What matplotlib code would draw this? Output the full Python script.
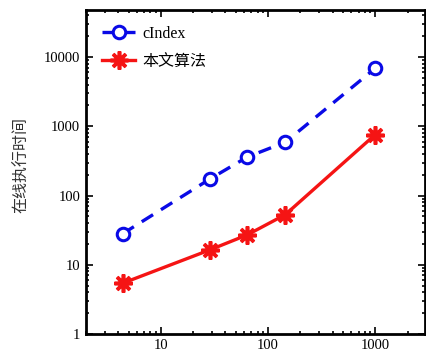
import matplotlib
matplotlib.use("Agg")
import matplotlib.pyplot as plt
from matplotlib.ticker import FixedLocator, FixedFormatter

plt.rcParams['font.family'] = ['Liberation Serif', 'Noto Sans CJK SC']

# data size (x) vs online run time (y)
x_cindex = [4.4, 29, 64, 145, 1000]
y_cindex = [28, 175, 360, 590, 6900]
x_ours = [4.4, 29, 64, 145, 1000]
y_ours = [5.4, 16.5, 27, 53, 760]

xticks = [10, 100, 1000]
xtick_labels = ["10", "100", "1000"]
yticks = [1, 10, 100, 1000, 10000]
ytick_labels = ["1", "10", "100", "1000", "10000"]

fig = plt.figure(figsize=(4.27, 3.56), dpi=100)
ax = fig.add_axes([0.201, 0.062, 0.794, 0.910])

ax.plot(x_cindex, y_cindex, color='#0a0ae6', lw=2.4, ls=(0, (4, 2.8)),
        marker='o', ms=9, mfc='white', mec='#0a0ae6', mew=2.2, label='cIndex')
ax.plot(x_ours, y_ours, color='#f51414', lw=2.4, ls='-',
        marker=(8, 2, 0), ms=13, mec='#f51414', mew=2.6, label='本文算法')

ax.set_xscale('log')
ax.set_yscale('log')
ax.set_xlim(2, 2900)
ax.set_ylim(1, 48000)

ax.xaxis.set_major_locator(FixedLocator(xticks))
ax.xaxis.set_major_formatter(FixedFormatter(xtick_labels))
ax.yaxis.set_major_locator(FixedLocator(yticks))
ax.yaxis.set_major_formatter(FixedFormatter(ytick_labels))

ax.tick_params(which='both', direction='in', top=True, right=True,
               labelsize=10.5, width=1.2)
ax.tick_params(which='major', length=5, pad=4)
ax.tick_params(which='minor', length=2.5)
for s in ax.spines.values():
    s.set_linewidth(2)

ax.set_ylabel('在线执行时间', fontsize=11.5, color='#333333',
              family=['Noto Sans CJK SC'])
ax.yaxis.set_label_coords(-0.165, 0.52)

leg = ax.legend(loc='upper left', frameon=False, fontsize=11.5,
                handlelength=2.1, borderaxespad=0.6, labelspacing=0.75,
                handletextpad=0.45)

fig.savefig('out.png', dpi=100)
